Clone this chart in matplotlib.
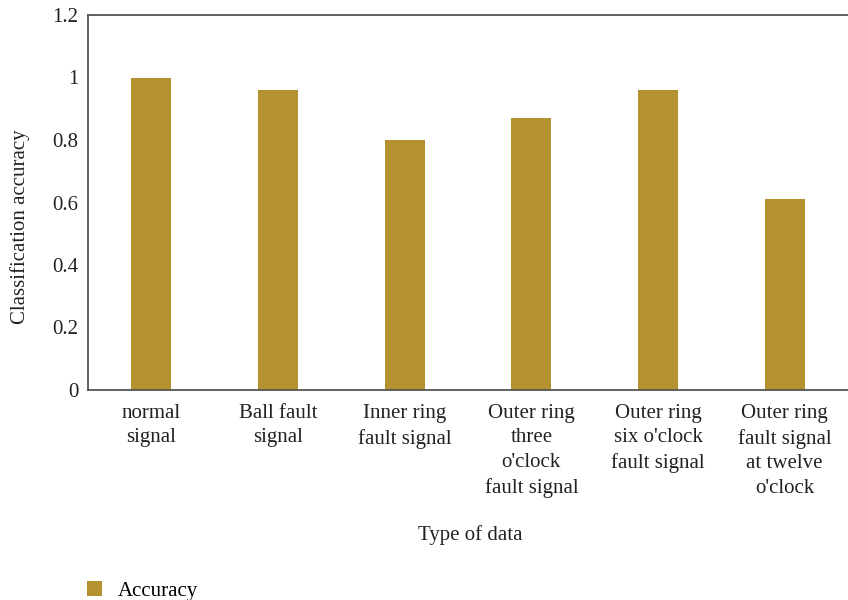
import matplotlib.pyplot as plt

# accuracy per signal type
categories = [
    "normal\nsignal",
    "Ball fault\nsignal",
    "Inner ring\nfault signal",
    "Outer ring\nthree\no'clock\nfault signal",
    "Outer ring\nsix o'clock\nfault signal",
    "Outer ring\nfault signal\nat twelve\no'clock",
]
accuracy = [1.0, 0.96, 0.80, 0.87, 0.96, 0.61]
yticks = [0, 0.2, 0.4, 0.6, 0.8, 1, 1.2]
ytick_labels = ["0", "0.2", "0.4", "0.6", "0.8", "1", "1.2"]

plt.rcParams["font.family"] = ["Liberation Serif", "DejaVu Serif"]
plt.rcParams["font.size"] = 15

fig = plt.figure(figsize=(8.48, 6), dpi=100)
ax = fig.add_axes([0.1038, 0.35, 0.8962, 0.625])

bar_color = "#B3922F"
x = range(len(categories))
bars = ax.bar(x, accuracy, width=0.315, color=bar_color, label="Accuracy")

ax.set_xlim(-0.5, 5.5)
ax.set_ylim(0, 1.2)
ax.set_yticks(yticks)
ax.set_yticklabels(ytick_labels)
ax.set_xticks(list(x))
ax.set_xticklabels(categories, va="top")
for lbl in ax.get_xticklabels():
    lbl.set_linespacing(1.4)
ax.tick_params(length=0, pad=7, colors="#222222", labelsize=15)
ax.tick_params(axis="x", pad=10)

for side in ["left", "bottom", "top"]:
    ax.spines[side].set_color("#555555")
    ax.spines[side].set_linewidth(1.3)
ax.spines["right"].set_visible(False)

fig.text(0.555, 0.108, "Type of data", ha="center", va="center",
         fontsize=15, color="#222222")
fig.text(0.024, 0.623, "Classification accuracy", ha="center", va="center",
         rotation=90, fontsize=15, color="#222222")

fig.legend(handles=[bars], labels=["Accuracy"], loc="center left",
           bbox_to_anchor=(0.081, 0.015), frameon=False,
           handlelength=0.7, handleheight=0.7, handletextpad=0.75, fontsize=15)

fig.savefig("out.png", dpi=100)
